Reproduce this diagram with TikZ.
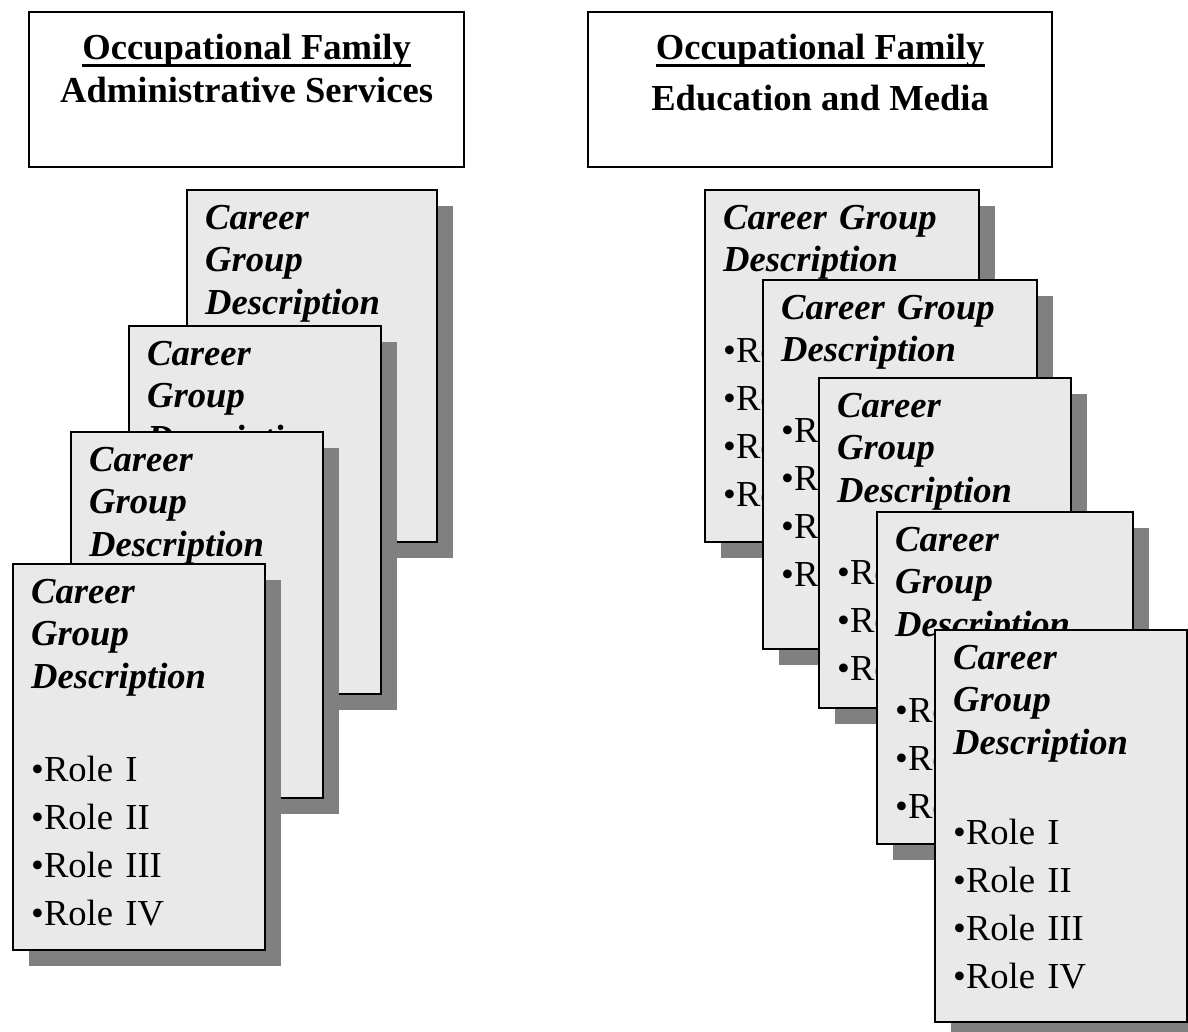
\documentclass[tikz,border=0pt]{standalone}
\usepackage{fontspec}
\setmainfont{Liberation Serif}
\usepackage{xcolor}
\definecolor{cardFill}{HTML}{E9E9E9}
\definecolor{shadowGray}{HTML}{808080}
\usepackage{tikz}
\usetikzlibrary{shadows}
\hyphenpenalty=10000

\newcommand{\roleLines}[1]{\textbullet Role I\\[5.5pt]\textbullet Role II\\[5.5pt]\textbullet Role III\ifnum#1>3 \\[5.5pt]\textbullet Role IV\fi}

\begin{document}
\begin{tikzpicture}[x=1pt, y=-1pt,
    headbox/.style={draw, line width=2.2pt, fill=white, anchor=north west, inner sep=0pt},
    headtext/.style={font=\fontsize{36.6}{42.5}\selectfont\bfseries, inner sep=0pt, anchor=base},
    card/.style={draw, line width=2.2pt, fill=cardFill, anchor=north west, inner sep=0pt,
      drop shadow={shadow xshift=16pt, shadow yshift=-16pt, fill=shadowGray, opacity=1}},
    cardtext/.style={anchor=base west, inner sep=0pt, align=left, font=\fontsize{36.6}{42.5}\selectfont}]
  \useasboundingbox (0,0) rectangle (1188,1031);

  % the two family headers
  \node[headbox, minimum width=435pt, minimum height=155pt] (admHead) at (28,11) {};
  \node[headtext] (admOcc) at ([yshift=-48pt]admHead.north) {Occupational Family};
  \node[headtext] (admName) at ([yshift=-91pt]admHead.north) {Administrative Services};
  \draw[line width=2.6pt] ([yshift=-6.5pt]admOcc.base west) -- ([yshift=-6.5pt]admOcc.base east);

  \node[headbox, minimum width=464pt, minimum height=155pt] (eduHead) at (587,11) {};
  \node[headtext] (eduOcc) at ([yshift=-48pt]eduHead.north) {Occupational Family};
  \node[headtext] (eduName) at ([yshift=-99pt]eduHead.north) {Education and Media};
  \draw[line width=2.6pt] ([yshift=-6.5pt]eduOcc.base west) -- ([yshift=-6.5pt]eduOcc.base east);

  % stacked career group cards, back to front
  \foreach \name/\x/\y/\w/\h/\tw/\gap/\nr in {
      adm1/186/189/250/352/190/48.5/4, adm2/128/325/252/368/190/48.5/4,
      adm3/70/431/252/366/190/48.5/4,  adm4/12/563/252/386/190/50.5/4,
      edu1/704/189/274/352/240/48.5/4, edu2/762/279/274/369/240/38.5/4,
      edu3/818/377/252/330/190/39.5/3, edu4/876/511/256/332/190/43.5/3,
      edu5/934/629/252/392/190/47.5/4} {
    \node[card, minimum width=\w pt, minimum height=\h pt] (\name) at (\x,\y) {};
    \node[cardtext, text width=\tw pt] (\name-text) at ([xshift=19pt, yshift=-40pt]\name.north west)
      {\textbf{\textit{Career Group Description}}\\[\gap pt]\roleLines{\nr}};
  }
\end{tikzpicture}
\end{document}
